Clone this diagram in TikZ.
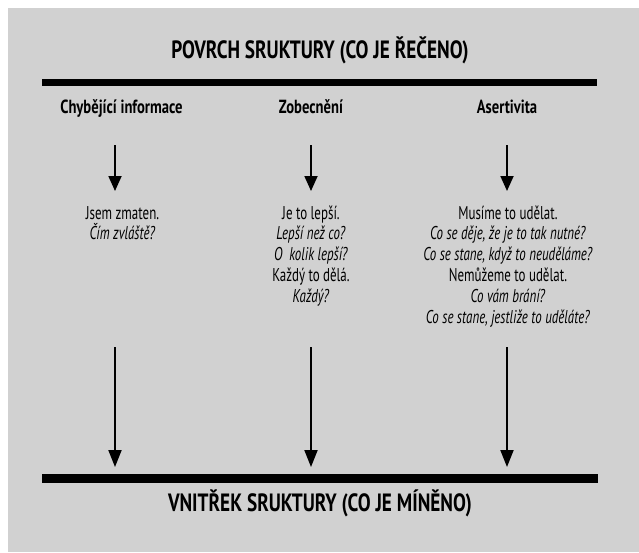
\documentclass[tikz,border=0pt]{standalone}
\usepackage{fontspec}
\setmainfont{PT Sans}[FakeStretch=0.77]
\newfontfamily\bodyfont{PT Sans}[FakeStretch=0.70]
\usetikzlibrary{arrows.meta}
\definecolor{bg}{RGB}{209,209,209}
\tikzset{
  title/.style={font=\bfseries\fontsize{25}{30}\selectfont, inner sep=0pt, anchor=base},
  head/.style={font=\bfseries\fontsize{19}{21}\selectfont, inner sep=0pt, anchor=base},
  body/.style={font=\bodyfont\fontsize{18.5}{20.8}\selectfont, align=center, inner sep=0pt, anchor=base},
  bar/.style={fill=black, draw=none, inner sep=0pt},
  arrU/.style={line width=1.8pt, -{Triangle[width=13pt,length=15pt]}},
  arrL/.style={line width=2pt, -{Triangle[width=13pt,length=17pt]}}
}
\begin{document}
\begin{tikzpicture}[x=1pt,y=-1pt]
\useasboundingbox (0,0) rectangle (639,552);
\fill[bg] (8,8) rectangle (639,552);
\node[title] (top) at (320,58) {POVRCH SRUKTURY (CO JE ŘEČENO)};
\node[bar, minimum width=555pt, minimum height=7.5pt] (topbar) at (319.5,82.5) {};
\node[head] (h1) at (121.5,113) {Chybějící informace};
\node[head] (h2) at (311,113) {Zobecnění};
\node[head] (h3) at (507,113) {Asertivita};
% base anchor = baseline of the last line
\node[body] (t1) at (122.5,239.8) {Jsem zmaten.\\\textit{Čím zvláště?}};
\node[body] (t2) at (311,302.2) {Je to lepší.\\\textit{Lepší než co?}\\\textit{O\ \ kolik lepší?}\\Každý to dělá.\\\textit{Každý?}};
\node[body] (t3) at (508,323) {Musíme to udělat.\\\textit{Co se děje, že je to tak nutné?}\\\textit{Co se stane, když to neuděláme?}\\Nemůžeme to udělat.\\\textit{Co vám brání?}\\\textit{Co se stane, jestliže to uděláte?}};
\node[bar, minimum width=556pt, minimum height=9pt] (botbar) at (320,478.5) {};
\node[title] (bot) at (320,511) {VNITŘEK SRUKTURY (CO JE MÍNĚNO)};
\coordinate (u1s) at (115,145); \coordinate (u1e) at (115,191);
\coordinate (u2s) at (311,145); \coordinate (u2e) at (311,191);
\coordinate (u3s) at (507,145); \coordinate (u3e) at (507,191);
\coordinate (l1s) at (115,347); \coordinate (l1e) at (115,467);
\coordinate (l2s) at (311,347); \coordinate (l2e) at (311,467);
\coordinate (l3s) at (507,347); \coordinate (l3e) at (507,467);
\draw[arrU] (u1s) -- (u1e);
\draw[arrU] (u2s) -- (u2e);
\draw[arrU] (u3s) -- (u3e);
\draw[arrL] (l1s) -- (l1e);
\draw[arrL] (l2s) -- (l2e);
\draw[arrL] (l3s) -- (l3e);
\end{tikzpicture}
\end{document}
